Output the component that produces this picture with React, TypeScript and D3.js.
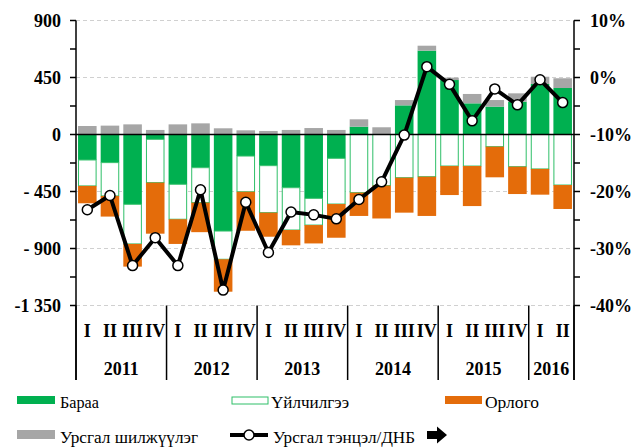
import React from 'react';
import * as d3 from 'd3';

const quarters = ['I', 'II', 'III', 'IV', 'I', 'II', 'III', 'IV', 'I', 'II', 'III', 'IV',
  'I', 'II', 'III', 'IV', 'I', 'II', 'III', 'IV', 'I', 'II'];
const years = ['2011', '2012', '2013', '2014', '2015', '2016'];

// Бараа, Үйлчилгээ, Орлого, Урсгал шилжүүлэг (сая ам.доллар)
const goods = [-201, -222, -551, -38, -393, -262, -762, -170, -246, -420, -504, -188,
  62, 0, 230, 662, 430, 246, 220, 259, 399, 367];
const services = [-205, -263, -313, -342, -276, -276, -223, -282, -371, -334, -211, -361,
  -459, -403, -341, -333, -249, -249, -96, -254, -272, -399];
const income = [-137, -163, -179, -403, -195, -233, -256, -308, -190, -121, -145, -266,
  -184, -260, -276, -310, -229, -316, -242, -216, -203, -189];
const transfers = [67, 70, 80, 36, 80, 88, 49, 33, 28, 36, 51, 36,
  58, 57, 42, 39, 19, 74, 52, 66, 57, 77];
// Урсгал тэнцэл / ДНБ, %
const balanceGdp = [-23.2, -20.7, -33.0, -28.1, -33.0, -19.7, -37.3, -21.9, -30.7, -23.6, -24.1, -24.8,
  -21.4, -18.3, -10.1, 1.9, -1.2, -7.6, -2.0, -4.8, -0.4, -4.4];

const leftTicks = [900, 450, 0, -450, -900, -1350];
const leftTickLabels = ['900', '450', '0', '- 450', '- 900', '-1 350'];
const rightTicks = [10, 0, -10, -20, -30, -40];
const rightTickLabels = ['10%', '0%', '-10%', '-20%', '-30%', '-40%'];

const GREEN = '#00B050';
const ORANGE = '#E46C0A';
const GRAY = '#A6A6A6';
const FONT = "'Liberation Serif', 'Times New Roman', serif";

const App: React.FC = () => {
  const width = 637;
  const height = 448;
  const left = 76;
  const right = 574;
  const top = 20.5;
  const bottom = 305.5;

  const x = d3.scaleBand<number>()
    .domain(d3.range(quarters.length))
    .range([left, right])
    .paddingInner(0.18)
    .paddingOuter(0.09);
  const y = d3.scaleLinear().domain([-1350, 900]).range([bottom, top]);
  const y2 = d3.scaleLinear().domain([-40, 10]).range([bottom, top]);

  const line = d3.line<number>()
    .x((_, i) => (x(i) as number) + x.bandwidth() / 2)
    .y(d => y2(d));

  // stacked segments: goods from zero, transfers above, services and income below
  const segs: { i: number; y0: number; y1: number; fill: string; stroke?: string }[] = [];
  quarters.forEach((_, i) => {
    let pos = 0;
    let neg = 0;
    segs.push({ i, y0: 0, y1: goods[i], fill: GREEN });
    if (goods[i] >= 0) pos = goods[i];
    else neg = goods[i];
    segs.push({ i, y0: pos, y1: pos + transfers[i], fill: GRAY });
    segs.push({ i, y0: neg, y1: neg + services[i], fill: '#fff', stroke: '#2fbf68' });
    neg += services[i];
    segs.push({ i, y0: neg, y1: neg + income[i], fill: ORANGE });
  });

  const minorLeft = d3.range(-1350, 901, 225);
  const minorRight = d3.range(-40, 10.1, 5);
  const step = x.step();
  const separators = [0, 4, 8, 12, 16, 20].map(k => left + k * step).concat([right]);

  return (
    <svg width={width} height={height}
      style={{ position: 'absolute', left: 0, top: 0, background: '#fff', fontFamily: FONT }}>
      {/* grid */}
      {leftTicks.filter(t => t !== 0).map(t => (
        <line key={'g' + t} x1={left} x2={right} y1={y(t)} y2={y(t)}
          stroke="#d0d0d0" strokeDasharray="4,3" strokeWidth={1} />
      ))}

      {/* bars */}
      {segs.map((s, k) => {
        const ya = y(Math.max(s.y0, s.y1));
        const yb = y(Math.min(s.y0, s.y1));
        return (
          <rect key={k} x={(x(s.i) as number) + (s.stroke ? 0.5 : 0)} y={ya}
            width={x.bandwidth() - (s.stroke ? 1 : 0)} height={Math.max(0, yb - ya)}
            fill={s.fill} stroke={s.stroke || 'none'} strokeWidth={1} />
        );
      })}

      {/* zero line */}
      <line x1={left} x2={right} y1={y(0)} y2={y(0)} stroke="#000" strokeWidth={1.5} />

      {/* axes */}
      <line x1={left} x2={left} y1={top} y2={380} stroke="#000" strokeWidth={1.5} />
      <line x1={right} x2={right} y1={top} y2={380} stroke="#000" strokeWidth={1.5} />
      {minorLeft.map(t => (
        <line key={'lt' + t} x1={left - 6} x2={left} y1={y(t)} y2={y(t)} stroke="#000" strokeWidth={1.5} />
      ))}
      {minorRight.map(t => (
        <line key={'rt' + t} x1={right} x2={right + 6} y1={y2(t)} y2={y2(t)} stroke="#000" strokeWidth={1.5} />
      ))}
      {leftTicks.map((t, i) => (
        <text key={'ll' + t} x={61} y={y(t) + 6} textAnchor="end" fontSize={18} fontWeight="bold">
          {leftTickLabels[i]}
        </text>
      ))}
      {rightTicks.map((t, i) => (
        <text key={'rl' + t} x={590} y={y2(t) + 6} textAnchor="start" fontSize={18} fontWeight="bold">
          {rightTickLabels[i]}
        </text>
      ))}

      {/* category axis */}
      {separators.map((sx, i) => (
        <line key={'s' + i} x1={sx} x2={sx} y1={bottom} y2={380} stroke="#000" strokeWidth={1.5} />
      ))}
      {quarters.map((q, i) => (
        <text key={'q' + i} x={(x(i) as number) + x.bandwidth() / 2} y={337} textAnchor="middle"
          fontSize={18} fontWeight="bold">{q}</text>
      ))}
      {years.map((yr, k) => (
        <text key={yr} x={(separators[k] + separators[k + 1]) / 2} y={375} textAnchor="middle"
          fontSize={18} fontWeight="bold">{yr}</text>
      ))}

      {/* balance line */}
      <path d={line(balanceGdp) || ''} fill="none" stroke="#000" strokeWidth={4} strokeLinejoin="round" />
      {balanceGdp.map((v, i) => (
        <circle key={'c' + i} cx={(x(i) as number) + x.bandwidth() / 2} cy={y2(v)} r={5}
          fill="#fff" stroke="#000" strokeWidth={1.5} />
      ))}

      {/* legend */}
      <g fontSize={16}>
        <rect x={17} y={396} width={38} height={8} fill={GREEN} />
        <text x={60} y={408} textLength={39} lengthAdjust="spacingAndGlyphs">Бараа</text>
        <rect x={232} y={397} width={36} height={7} fill="#fff" stroke="#2fbf68" strokeWidth={1} />
        <text x={271} y={408} textLength={78} lengthAdjust="spacingAndGlyphs">Үйлчилгээ</text>
        <rect x={445} y={396} width={37} height={8} fill={ORANGE} />
        <text x={485} y={408} textLength={54} lengthAdjust="spacingAndGlyphs">Орлого</text>
        <rect x={17} y={430} width={38} height={9} fill={GRAY} />
        <text x={60} y={443} textLength={138} lengthAdjust="spacingAndGlyphs">Урсгал шилжүүлэг</text>
        <line x1={230} x2={268} y1={435} y2={435} stroke="#000" strokeWidth={4} />
        <circle cx={249} cy={435} r={5} fill="#fff" stroke="#000" strokeWidth={1.5} />
        <text x={273} y={443} textLength={142} lengthAdjust="spacingAndGlyphs">Урсгал тэнцэл/ДНБ</text>
        <path d="M427,431 h10 v-4.5 l10,8.5 l-10,8.5 v-4.5 h-10 z" fill="#000" />
      </g>
    </svg>
  );
};

export default App;
